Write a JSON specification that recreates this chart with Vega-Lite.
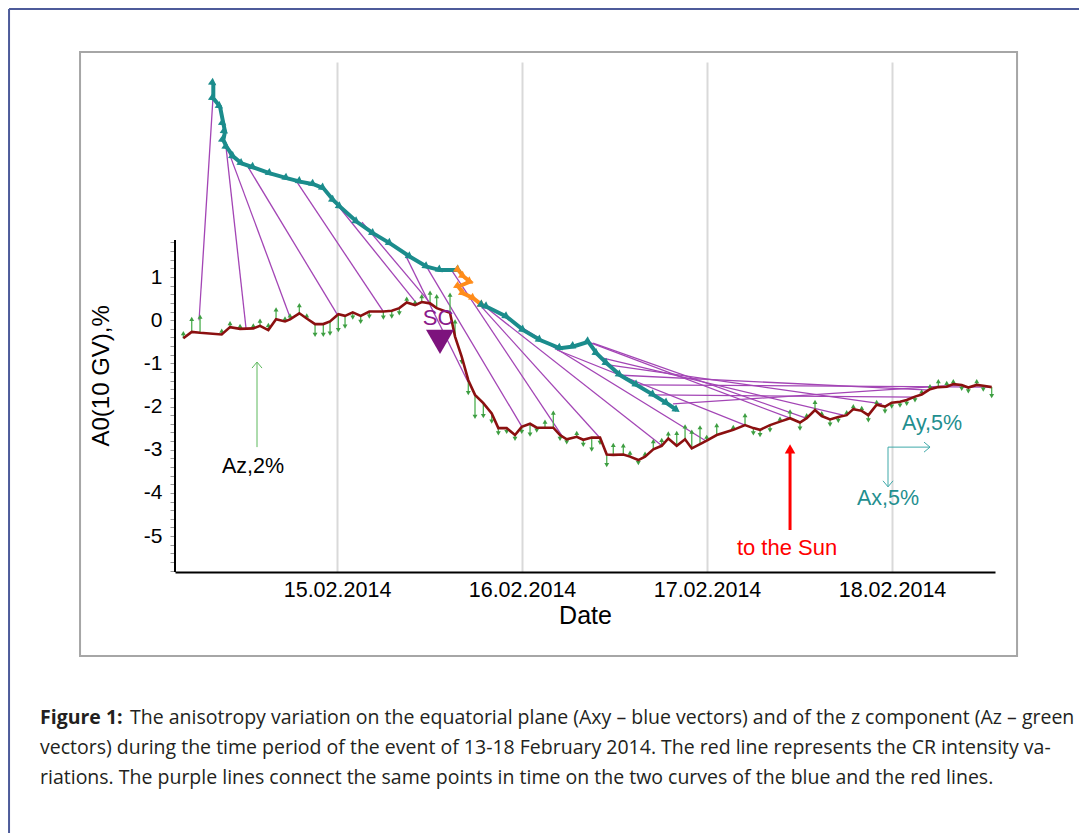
{
  "$schema": "https://vega.github.io/schema/vega-lite/v6.json",
  "width": 820,
  "height": 510,
  "autosize": {"type": "none"},
  "padding": {"left": 175, "top": 62, "right": 84, "bottom": 261},
  "background": "white",
  "config": {"view": {"stroke": null}},
  "datasets": {
    "red": [
      {"t":4.06,"v":-0.42,"tip":-0.30},{"t":5.15,"v":-0.27,"tip":0.03},{"t":6.23,"v":-0.29,"tip":0.08},{"t":9.04,"v":-0.33,"tip":-0.24},
      {"t":10.12,"v":-0.16,"tip":-0.07},{"t":11.42,"v":-0.20,"tip":-0.13},{"t":13.14,"v":-0.19,"tip":-0.12},{"t":14.01,"v":-0.13,"tip":-0.01},
      {"t":15.09,"v":-0.23,"tip":-0.11},{"t":16.09,"v":0.02,"tip":0.25},{"t":17.25,"v":-0.03,"tip":0.04},{"t":17.90,"v":0.02,"tip":0.11},
      {"t":19.11,"v":0.16,"tip":0.35},{"t":20.07,"v":0.04,"tip":0.11},{"t":21.15,"v":-0.09,"tip":-0.34},{"t":22.22,"v":-0.09,"tip":-0.34},
      {"t":23.09,"v":-0.03,"tip":-0.31},{"t":24.17,"v":0.14,"tip":-0.23},{"t":25.04,"v":0.10,"tip":-0.15},{"t":26.04,"v":0.18,"tip":0.06},
      {"t":27.07,"v":0.10,"tip":-0.04},{"t":28.19,"v":0.20,"tip":0.08},{"t":30.01,"v":0.20,"tip":0.06},{"t":31.10,"v":0.22,"tip":0.08},
      {"t":32.08,"v":0.28,"tip":0.16},{"t":33.04,"v":0.41,"tip":0.50},{"t":34.12,"v":0.35,"tip":0.42},{"t":34.99,"v":0.42,"tip":0.56},
      {"t":36.07,"v":0.39,"tip":0.64},{"t":36.93,"v":0.28,"tip":0.56},{"t":38.66,"v":0.17,"tip":0.59},{"t":39.31,"v":-0.38,"tip":-0.03},
      {"t":40.18,"v":-0.85,"tip":-0.97},{"t":41.03,"v":-1.39,"tip":-1.69},{"t":41.90,"v":-1.73,"tip":-2.24},{"t":42.98,"v":-1.92,"tip":-2.22},
      {"t":44.07,"v":-2.16,"tip":-2.35},{"t":44.93,"v":-2.50,"tip":-2.62},{"t":46.01,"v":-2.50,"tip":-2.59},{"t":47.09,"v":-2.66,"tip":-2.75},
      {"t":47.96,"v":-2.47,"tip":-2.59},{"t":49.04,"v":-2.40,"tip":-2.65},{"t":49.91,"v":-2.49,"tip":-2.56},{"t":50.98,"v":-2.49,"tip":-2.35},
      {"t":52.06,"v":-2.49,"tip":-2.14},{"t":52.93,"v":-2.66,"tip":-2.75},{"t":53.80,"v":-2.76,"tip":-2.83},{"t":55.10,"v":-2.70,"tip":-2.61},
      {"t":55.95,"v":-2.77,"tip":-2.89},{"t":57.04,"v":-2.72,"tip":-3.00},{"t":58.12,"v":-2.72,"tip":-2.84},{"t":58.99,"v":-3.11,"tip":-3.36},
      {"t":59.84,"v":-3.12,"tip":-2.89},{"t":61.14,"v":-3.11,"tip":-2.90},{"t":62.01,"v":-3.16,"tip":-3.07},{"t":63.09,"v":-3.24,"tip":-3.31},
      {"t":63.96,"v":-3.16,"tip":-3.09},{"t":65.03,"v":-2.99,"tip":-2.80},{"t":66.12,"v":-2.91,"tip":-2.77},{"t":66.98,"v":-2.74,"tip":-2.62},
      {"t":68.07,"v":-2.91,"tip":-2.61},{"t":69.15,"v":-2.76,"tip":-2.46},{"t":70.02,"v":-2.97,"tip":-2.58},{"t":71.09,"v":-2.87,"tip":-2.48},
      {"t":71.96,"v":-2.79,"tip":-2.70},{"t":73.26,"v":-2.66,"tip":-2.43},{"t":75.41,"v":-2.54,"tip":-2.47},{"t":76.93,"v":-2.43,"tip":-2.20},
      {"t":78.01,"v":-2.50,"tip":-2.62},{"t":78.88,"v":-2.54,"tip":-2.66},{"t":80.17,"v":-2.43,"tip":-2.55},{"t":81.47,"v":-2.35,"tip":-2.28},
      {"t":82.77,"v":-2.27,"tip":-2.11},{"t":84.06,"v":-2.37,"tip":-2.51},{"t":84.93,"v":-2.27,"tip":-2.20},{"t":86.01,"v":-2.08,"tip":-1.89},
      {"t":86.88,"v":-2.22,"tip":-2.15},{"t":87.96,"v":-2.30,"tip":-2.42},{"t":89.03,"v":-2.24,"tip":-2.33},{"t":90.12,"v":-2.20,"tip":-2.13},
      {"t":90.98,"v":-2.06,"tip":-1.99},{"t":92.07,"v":-2.10,"tip":-2.03},{"t":92.93,"v":-2.20,"tip":-2.32},{"t":94.01,"v":-1.96,"tip":-1.89},
      {"t":95.09,"v":-2.00,"tip":-2.12},{"t":95.96,"v":-1.91,"tip":-2.00},{"t":97.04,"v":-1.89,"tip":-1.98},{"t":97.91,"v":-1.85,"tip":-1.94},
      {"t":98.98,"v":-1.77,"tip":-1.86},{"t":99.85,"v":-1.72,"tip":-1.65},{"t":100.93,"v":-1.60,"tip":-1.53},{"t":102.01,"v":-1.55,"tip":-1.41},
      {"t":103.10,"v":-1.54,"tip":-1.45},{"t":103.95,"v":-1.48,"tip":-1.41},{"t":105.04,"v":-1.50,"tip":-1.59},{"t":105.90,"v":-1.56,"tip":-1.65},
      {"t":106.99,"v":-1.50,"tip":-1.41},{"t":107.84,"v":-1.52,"tip":-1.61},{"t":108.93,"v":-1.55,"tip":-1.76}
    ],
    "axy": [
      {"i":1,"seg":"a","t":7.95,"v":5.49},{"i":2,"seg":"a","t":7.95,"v":5.14},{"i":3,"seg":"a","t":8.82,"v":4.95},{"i":4,"seg":"a","t":9.25,"v":4.56},
      {"i":5,"seg":"a","t":9.47,"v":4.37},{"i":6,"seg":"a","t":9.25,"v":4.17},{"i":7,"seg":"a","t":9.69,"v":4.01},{"i":8,"seg":"a","t":10.55,"v":3.79},
      {"i":9,"seg":"a","t":11.64,"v":3.63},{"i":10,"seg":"a","t":13.14,"v":3.54},{"i":11,"seg":"a","t":15.31,"v":3.40},{"i":12,"seg":"a","t":17.47,"v":3.29},
      {"i":13,"seg":"a","t":19.20,"v":3.21},{"i":14,"seg":"a","t":20.93,"v":3.15},{"i":15,"seg":"a","t":22.22,"v":3.06},{"i":16,"seg":"a","t":23.52,"v":2.78},
      {"i":17,"seg":"a","t":24.39,"v":2.63},{"i":18,"seg":"a","t":26.56,"v":2.28},{"i":19,"seg":"a","t":28.71,"v":2.01},{"i":20,"seg":"a","t":30.88,"v":1.78},
      {"i":21,"seg":"a","t":33.47,"v":1.47},{"i":22,"seg":"a","t":35.64,"v":1.24},{"i":23,"seg":"a","t":37.36,"v":1.16},{"i":24,"seg":"a","t":39.74,"v":1.16},
      {"i":25,"seg":"o","t":39.74,"v":1.16},{"i":26,"seg":"o","t":40.38,"v":1.02},{"i":27,"seg":"o","t":41.25,"v":0.89},{"i":28,"seg":"o","t":39.74,"v":0.78},
      {"i":29,"seg":"o","t":40.38,"v":0.62},{"i":30,"seg":"o","t":41.68,"v":0.51},{"i":31,"seg":"o","t":42.81,"v":0.35},
      {"i":32,"seg":"b","t":42.81,"v":0.35},{"i":33,"seg":"b","t":43.42,"v":0.31},{"i":34,"seg":"b","t":46.01,"v":0.08},{"i":35,"seg":"b","t":48.17,"v":-0.23},
      {"i":36,"seg":"b","t":50.34,"v":-0.46},{"i":37,"seg":"b","t":52.93,"v":-0.65},{"i":38,"seg":"b","t":54.66,"v":-0.61},{"i":39,"seg":"b","t":56.60,"v":-0.50},
      {"i":40,"seg":"b","t":57.69,"v":-0.77},{"i":41,"seg":"b","t":58.99,"v":-1.00},{"i":42,"seg":"b","t":60.71,"v":-1.27},{"i":43,"seg":"b","t":62.88,"v":-1.50},
      {"i":44,"seg":"b","t":65.03,"v":-1.73},{"i":45,"seg":"b","t":66.77,"v":-1.92},{"i":46,"seg":"b","t":68.07,"v":-2.08}
    ],
    "links": [
      {"t":7.91,"v":5.15,"t2":6.10,"v2":0.00},{"t":9.60,"v":4.01,"t2":12.19,"v2":-0.18},{"t":9.86,"v":3.94,"t2":17.90,"v2":0.07},
      {"t":12.45,"v":3.55,"t2":24.00,"v2":0.14},{"t":18.81,"v":3.20,"t2":29.97,"v2":0.21},{"t":22.70,"v":2.97,"t2":34.51,"v2":0.35},
      {"t":27.24,"v":2.27,"t2":36.07,"v2":0.40},{"t":32.82,"v":1.53,"t2":40.99,"v2":-1.43},{"t":35.55,"v":1.26,"t2":48.00,"v2":-2.47},
      {"t":38.92,"v":1.14,"t2":53.19,"v2":-2.68},{"t":41.38,"v":0.58,"t2":58.12,"v2":-2.73},{"t":42.94,"v":0.35,"t2":66.16,"v2":-2.91},
      {"t":44.24,"v":0.24,"t2":71.87,"v2":-2.80},{"t":52.54,"v":-0.69,"t2":76.93,"v2":-2.43},{"t":56.56,"v":-0.50,"t2":82.77,"v2":-2.27},
      {"t":57.21,"v":-0.53,"t2":84.84,"v2":-2.27},{"t":58.51,"v":-0.88,"t2":89.64,"v2":-2.20},{"t":59.42,"v":-1.04,"t2":94.70,"v2":-1.94},
      {"t":60.32,"v":-1.27,"t2":100.93,"v2":-1.62},{"t":62.92,"v":-1.50,"t2":108.71,"v2":-1.55},{"t":67.59,"v":-1.94,"t2":104.82,"v2":-1.50},
      {"t":64.99,"v":-1.73,"t2":98.98,"v2":-1.78}
    ]
  },
  "encoding": {
    "x": {
      "field": "t", "type": "quantitative",
      "scale": {"domain": [2.98, 109.36], "nice": false, "zero": false},
      "axis": {
        "title": "Date", "values": [24, 48, 72, 96],
        "labelExpr": "(datum.value/24+14) + '.02.2014'",
        "grid": true, "gridColor": "#d9d9d9", "gridWidth": 2,
        "domainColor": "#000000", "domainWidth": 2, "ticks": false,
        "labelFont": "Liberation Sans", "labelFontSize": 21.5, "labelColor": "#000000", "labelPadding": 7,
        "titleFont": "Liberation Sans", "titleFontSize": 25, "titleFontWeight": "normal", "titleColor": "#000000", "titlePadding": 3
      }
    },
    "y": {
      "field": "v", "type": "quantitative",
      "scale": {"domain": [-5.833, 5.981], "nice": false, "zero": false},
      "axis": {
        "title": null, "domain": false, "grid": false,
        "values": [-5.8,-5.6,-5.4,-5.2,-5,-4.8,-4.6,-4.4,-4.2,-4,-3.8,-3.6,-3.4,-3.2,-3,-2.8,-2.6,-2.4,-2.2,-2,-1.8,-1.6,-1.4,-1.2,-1,-0.8,-0.6,-0.4,-0.2,0,0.2,0.4,0.6,0.8,1,1.2,1.4,1.6,1.8],
        "labelExpr": "datum.value % 1 == 0 ? '' + datum.value : ''",
        "labelOverlap": false, "tickColor": "#999999", "tickSize": 5, "tickWidth": 1,
        "labelFont": "Liberation Sans", "labelFontSize": 21, "labelColor": "#000000", "labelPadding": 8
      }
    }
  },
  "layer": [
    {
      "data": {"values": [{"t": -9.34, "v": 6.21, "t2": 112.22, "v2": -7.78}]},
      "mark": {"type": "rect", "filled": false, "stroke": "#a6a6a6", "strokeWidth": 2},
      "encoding": {"x2": {"field": "t2"}, "y2": {"field": "v2"}}
    },
    {
      "data": {"values": [{"t": -18.55, "v": 7.21, "t2": 120.26, "v2": 7.21}, {"t": -18.55, "v": 7.21, "t2": -18.55, "v2": -11.88}]},
      "mark": {"type": "rule", "color": "#4d5b9a", "strokeWidth": 2},
      "encoding": {"x2": {"field": "t2"}, "y2": {"field": "v2"}}
    },
    {
      "data": {"name": "links"},
      "mark": {"type": "rule", "color": "#a345b5", "strokeWidth": 1.3},
      "encoding": {"x2": {"field": "t2"}, "y2": {"field": "v2"}}
    },
    {
      "data": {"values": [{"t": 2.98, "v": -5.833, "v2": 1.86}]},
      "mark": {"type": "rule", "color": "#000000", "strokeWidth": 2},
      "encoding": {"y2": {"field": "v2"}}
    },
    {
      "data": {"name": "red"},
      "mark": {"type": "rule", "color": "#4caf50", "strokeWidth": 1.3},
      "encoding": {"y2": {"field": "tip"}}
    },
    {
      "data": {"name": "red"},
      "mark": {"type": "point", "filled": true, "size": 24, "color": "#3e9e42", "opacity": 1},
      "encoding": {
        "y": {
          "field": "tip", "type": "quantitative",
          "scale": {"domain": [-5.833, 5.981], "nice": false, "zero": false},
          "axis": {
            "title": null, "domain": false, "grid": false,
            "values": [-5.8,-5.6,-5.4,-5.2,-5,-4.8,-4.6,-4.4,-4.2,-4,-3.8,-3.6,-3.4,-3.2,-3,-2.8,-2.6,-2.4,-2.2,-2,-1.8,-1.6,-1.4,-1.2,-1,-0.8,-0.6,-0.4,-0.2,0,0.2,0.4,0.6,0.8,1,1.2,1.4,1.6,1.8],
            "labelExpr": "datum.value % 1 == 0 ? '' + datum.value : ''",
            "labelOverlap": false, "tickColor": "#999999", "tickSize": 5, "tickWidth": 1,
            "labelFont": "Liberation Sans", "labelFontSize": 21, "labelColor": "#000000", "labelPadding": 8
          }
        },
        "shape": {"condition": {"test": "datum.tip > datum.v", "value": "triangle-up"}, "value": "triangle-down"}
      }
    },
    {
      "data": {"name": "red"},
      "mark": {"type": "line", "color": "#8b1010", "strokeWidth": 2.6},
      "encoding": {}
    },
    {
      "data": {"name": "axy"},
      "mark": {"type": "line", "strokeWidth": 4},
      "encoding": {
        "order": {"field": "i"},
        "color": {"field": "seg", "type": "nominal", "scale": {"domain": ["a", "o", "b"], "range": ["#1b8c8c", "#ff8c1a", "#1b8c8c"]}, "legend": null}
      }
    },
    {
      "data": {"name": "axy"},
      "mark": {"type": "point", "shape": "triangle-right", "filled": true, "size": 70, "angle": 35, "opacity": 1},
      "encoding": {
        "color": {"field": "seg", "type": "nominal", "scale": {"domain": ["a", "o", "b"], "range": ["#1b8c8c", "#ff8c1a", "#1b8c8c"]}, "legend": null}
      }
    },
    {
      "data": {"values": [{"t": 13.62, "v": -2.94, "v2": -0.97}]},
      "mark": {"type": "rule", "color": "#5cb85c", "strokeWidth": 1},
      "encoding": {"y2": {"field": "v2"}}
    },
    {
      "data": {"values": [{"t": 13.62, "v": -0.97}]},
      "mark": {"type": "point", "shape": "M-1,1.2L0,0L1,1.2", "filled": false, "size": 100, "stroke": "#5cb85c", "strokeWidth": 1, "opacity": 1},
      "encoding": {}
    },
    {
      "data": {"values": [{"t": 95.48, "v": -2.94, "t2": 100.93, "v2": -2.94}, {"t": 95.48, "v": -2.94, "t2": 95.48, "v2": -3.86}]},
      "mark": {"type": "rule", "color": "#3fa9a9", "strokeWidth": 1},
      "encoding": {"x2": {"field": "t2"}, "y2": {"field": "v2"}}
    },
    {
      "data": {"values": [{"t": 100.93, "v": -2.94}]},
      "mark": {"type": "point", "shape": "M-1.2,-1L0,0L-1.2,1", "filled": false, "size": 100, "stroke": "#3fa9a9", "strokeWidth": 1, "opacity": 1},
      "encoding": {}
    },
    {
      "data": {"values": [{"t": 95.48, "v": -3.86}]},
      "mark": {"type": "point", "shape": "M-1,-1.2L0,0L1,-1.2", "filled": false, "size": 100, "stroke": "#3fa9a9", "strokeWidth": 1, "opacity": 1},
      "encoding": {}
    },
    {
      "data": {"values": [{"t": 82.77, "v": -4.86, "v2": -3.0}]},
      "mark": {"type": "rule", "color": "#ff0000", "strokeWidth": 3},
      "encoding": {"y2": {"field": "v2"}}
    },
    {
      "data": {"values": [{"t": 82.77, "v": -2.98}]},
      "mark": {"type": "point", "shape": "triangle-up", "filled": true, "size": 110, "color": "#ff0000", "opacity": 1},
      "encoding": {}
    },
    {
      "data": {"values": [{"t": 37.36, "v": -0.50}]},
      "mark": {"type": "point", "shape": "triangle-down", "filled": true, "size": 784, "color": "#7d137d", "opacity": 1},
      "encoding": {}
    },
    {
      "data": {"values": [{"t": 37.10, "v": 0.05, "label": "SC"}]},
      "mark": {"type": "text", "font": "Liberation Sans", "fontSize": 22, "color": "#8b1a8b", "baseline": "middle", "align": "center"},
      "encoding": {"text": {"field": "label"}}
    },
    {
      "data": {"values": [{"t": 13.10, "v": -3.40, "label": "Az,2%"}]},
      "mark": {"type": "text", "font": "Liberation Sans", "fontSize": 21.5, "color": "#000000", "baseline": "middle", "align": "center"},
      "encoding": {"text": {"field": "label"}}
    },
    {
      "data": {"values": [{"t": 101.19, "v": -2.40, "label": "Ay,5%"}, {"t": 95.48, "v": -4.14, "label": "Ax,5%"}]},
      "mark": {"type": "text", "font": "Liberation Sans", "fontSize": 21.5, "color": "#1f8f8f", "baseline": "middle", "align": "center"},
      "encoding": {"text": {"field": "label"}}
    },
    {
      "data": {"values": [{"t": 82.38, "v": -5.28, "label": "to the Sun"}]},
      "mark": {"type": "text", "font": "Liberation Sans", "fontSize": 22, "color": "#ff0000", "baseline": "middle", "align": "center"},
      "encoding": {"text": {"field": "label"}}
    },
    {
      "data": {"values": [{"t": -6.49, "v": -1.29, "label": "A0(10 GV),%"}]},
      "mark": {"type": "text", "font": "Liberation Sans", "fontSize": 24, "color": "#000000", "baseline": "middle", "align": "center", "angle": 270},
      "encoding": {"text": {"field": "label"}}
    },
    {
      "data": {"values": [{"t": -14.53, "v": -9.21, "label": "Figure 1:"}]},
      "mark": {"type": "text", "font": "Open Sans", "fontSize": 19.5, "fontWeight": "bold", "color": "#231f20", "baseline": "middle", "align": "left"},
      "encoding": {"text": {"field": "label"}}
    },
    {
      "data": {"values": [
        {"t": -2.85, "v": -9.21, "label": "The anisotropy variation on the equatorial plane (Axy – blue vectors) and of the z component (Az – green"},
        {"t": -14.53, "v": -9.91, "label": "vectors) during the time period of the event of 13-18 February 2014. The red line represents the CR intensity va-"},
        {"t": -14.53, "v": -10.60, "label": "riations. The purple lines connect the same points in time on the two curves of the blue and the red lines."}
      ]},
      "mark": {"type": "text", "font": "Open Sans", "fontSize": 19.5, "color": "#231f20", "baseline": "middle", "align": "left"},
      "encoding": {"text": {"field": "label"}}
    }
  ]
}
